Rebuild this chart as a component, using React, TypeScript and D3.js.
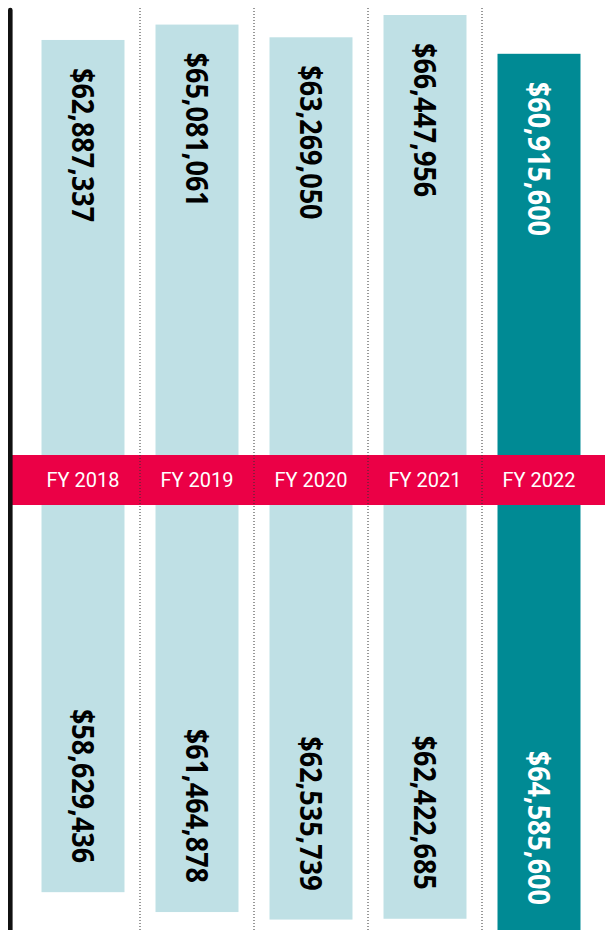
import React from "react";
import * as d3 from "d3";

const years = ["FY 2018", "FY 2019", "FY 2020", "FY 2021", "FY 2022"];
const topValues = [62887337, 65081061, 63269050, 66447956, 60915600];
const bottomValues = [58629436, 61464878, 62535739, 62422685, 64585600];
const highlight = [false, false, false, false, true];

const W = 605;
const H = 930;
const BASE = 481;
const LIGHT = "#bfe0e5";
const DARK = "#008a94";
const RED = "#eb0046";
const fmt = (v: number) => "$" + d3.format(",")(v);

export default function App() {
  const x = d3.scaleBand<string>().domain(years).range([26, 596]).padding(0);
  const barW = x.bandwidth() * 0.728;
  const len = d3.scaleLinear().domain([0, 66447956]).range([0, 466]);
  const dividers = years.slice(1).map((y) => x(y)!);
  const labelScale = 0.9;

  return (
    <svg
      width={W}
      height={H}
      style={{ position: "absolute", left: 0, top: 0, display: "block" }}
    >
      <rect x={0} y={0} width={W} height={H} fill="#fff" />
      {years.map((yr, i) => {
        const cx = x(yr)! + x.bandwidth() / 2;
        const fill = highlight[i] ? DARK : LIGHT;
        const tc = highlight[i] ? "#fff" : "#000";
        const tl = len(topValues[i]);
        const bl = len(bottomValues[i]);
        return (
          <g key={yr}>
            <rect x={cx - barW / 2} y={BASE - tl} width={barW} height={tl} fill={fill} />
            <rect x={cx - barW / 2} y={BASE} width={barW} height={bl} fill={fill} />
            <text
              transform={`translate(${cx},${BASE - tl + 28}) rotate(90) scale(${labelScale},1)`}
              dy="0.36em"
              textAnchor="start"
              fontFamily="'Open Sans', sans-serif"
              fontWeight={700}
              fontSize={30}
              fill={tc}
            >
              {fmt(topValues[i])}
            </text>
            <text
              transform={`translate(${cx},${BASE + bl - 29}) rotate(90) scale(${labelScale},1)`}
              dy="0.36em"
              textAnchor="end"
              fontFamily="'Open Sans', sans-serif"
              fontWeight={700}
              fontSize={30}
              fill={tc}
            >
              {fmt(bottomValues[i])}
            </text>
          </g>
        );
      })}
      <rect x={12} y={455} width={W - 12} height={50} fill={RED} />
      {years.map((yr) => (
        <text
          key={yr + "-lbl"}
          x={x(yr)! + x.bandwidth() / 2}
          y={480}
          dy="0.36em"
          textAnchor="middle"
          fontFamily="Roboto, sans-serif"
          fontSize={20}
          fill="#fff"
        >
          {yr}
        </text>
      ))}
      {dividers.map((dx, i) => (
        <line
          key={"d" + i}
          x1={dx}
          x2={dx}
          y1={8}
          y2={H}
          stroke="#333"
          strokeWidth={1}
          strokeDasharray="1,2"
        />
      ))}
      <line x1={10.3} x2={10.3} y1={10} y2={H + 5} stroke="#111" strokeWidth={4.6} strokeLinecap="round" />
    </svg>
  );
}
